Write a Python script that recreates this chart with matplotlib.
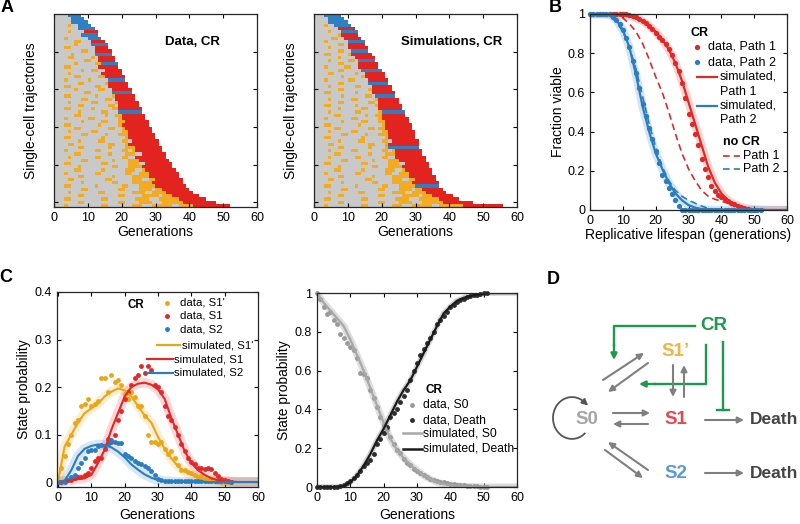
import numpy as np
import matplotlib.pyplot as plt
from matplotlib.colors import ListedColormap

plt.rcParams['font.family'] = ['Liberation Sans', 'DejaVu Sans']
plt.rcParams['font.size'] = 9
plt.rcParams['axes.linewidth'] = 0.9
plt.rcParams['axes.edgecolor'] = '#262626'
plt.rcParams['xtick.direction'] = 'in'
plt.rcParams['ytick.direction'] = 'in'
plt.rcParams['xtick.top'] = True
plt.rcParams['ytick.right'] = True
plt.rcParams['xtick.major.size'] = 3
plt.rcParams['ytick.major.size'] = 3

RED = '#e22826'
BLUE = '#2a7dc0'
ORANGE = '#eca515'

# ---- A: single-cell trajectories (0 = S0, 1 = S1', 2 = S1, 3 = S2) ----
data_rows = [
    "00003333", "000003333", "0000033333", "00001003333", "000000033333",
    "0000100002222", "0000000033333", "00010000003333", "000000110002222",
    "0000001000033333", "0001100000002222", "00000000110022222",
    "00000100000033333", "000011000001022222", "000000000110022222",
    "0000001000001133333", "0001100000000222222", "00000000100110022222",
    "00001000000000222222", "000000110000011222222", "000100000010000033333",
    "0000000110000001222222", "0001100000001100222222",
    "00000010000001100222222", "00000000011000000333333",
    "000110000000100001222222", "000000001100000110222222",
    "0000100000011000001222222", "0000000110000000110222222",
    "00011000000100000112222222", "00000001000000110003333333",
    "000000110000000100112222222", "000100000011000000012222222",
    "0000000010000011000112222222", "0001100000000100000122222222",
    "00000011000000001100122222222", "00001000000110000000112222222",
    "000000001100000100011122222222", "000110000000001000000122222222",
    "0000000100000110000011022222222", "0000110000000000110001222222222",
    "00000001100000001000011122222222", "00010000000011000000110122222222",
    "000000110000000010000111002222222", "000010000000110000001100222222222",
    "0000000011000000010000111222222222", "00011000000000110000001110022222222",
    "00000001000000000110001111222222222", "000000110000001000000111001222222222",
    "0001000000001100000001100111222222222", "0000000110000000010000011111222222222",
    "00001100000000011000000111001122222222", "00000000100000000110000111111222222222",
    "000110000000100000001100011111222222222", "0000000011000000000110000111101122222222",
    "00001000000001100000000111100111122222222",
    "0000000110000000000110000011111011122222222",
    "000110000000001100000000111100011111122222222",
    "000000011000000000011000011110001111112222222222",
    "0001000000000011000000011100011111100111122222222222",
]

sim_rows = [
    "00033333", "000033333", "0000333333", "00010033333", "000000022222",
    "0000100033333", "0000000122222", "00000110022222", "000100000033333",
    "000000011022222", "0000100000222222", "0000000110033333",
    "00011000001222222", "000000010000222222", "000010000011033333",
    "0000000110000222222", "0001000001100222222", "00000001100000333333",
    "000011000000100222222", "000000001000001222222", "0001000000110000222222",
    "0000000110000000333333", "00001000000011000222222",
    "00000001100000001222222", "000110000000100002222222",
    "000000001000000110333333", "0000100000011000001222222",
    "0000000110000000110222222", "00011000000010000012222222",
    "00000001000000110002222222", "000010000000110000013333333",
    "000000110000000100112222222", "0001000000011000000122222222",
    "0000000010000011000112222222", "00011000000001000000122222222",
    "00000011000000001101122222222", "000010000001100000001122222222",
    "000000001100000100011122222222", "000110000000001000000122222222",
    "0000000100000110000011022222222", "0000110000000000110001222222222",
    "0000000110000000100001333333333", "00001000000110000000110122222222",
    "00000011000000001000011122222222", "000010000000110000001100222222222",
    "000000001100000001000011122222222", "0001100000000011000000111002222222",
    "0000000100000000011000111122222222", "00000011000000100000011100122222222",
    "00010000000011000000011001112222222", "000000011000000001000001111122222222",
    "000011000000000110000001110011222222", "0000000010000000011000011111122222222",
    "0001100000001000000011000111113333333", "00000000110000000001100001111011222222",
    "000010000000011000000001111001111222222",
    "00000001100000000001100000111110111222222",
    "0001100000000011000000001111000111111222222",
    "00000001100000000001100001111000111111222222222",
    "00010000000000110000000111000111111001111111222222222222",
]

# ---- B: fraction viable ----
gens_p1_data = np.arange(6, 51)
path1_data = [1, 1, 1, 1, 1, 1, 0.995, 0.99, 0.985, 0.975, 0.965, 0.955, 0.94, 0.925,
              0.905, 0.885, 0.865, 0.845, 0.82, 0.79, 0.75, 0.71, 0.65, 0.57, 0.49, 0.44,
              0.39, 0.33, 0.26, 0.21, 0.17, 0.125, 0.095, 0.075, 0.065, 0.055, 0.045,
              0.035, 0.03, 0.022, 0.015, 0.01, 0.005, 0.002, 0]
gens_p2_data = np.arange(0, 53)
path2_data = [1, 1, 1, 1, 1, 1, 1, 0.985, 0.97, 0.95, 0.92, 0.88, 0.83, 0.76, 0.7, 0.62,
              0.54, 0.48, 0.42, 0.36, 0.3, 0.24, 0.18, 0.15, 0.11, 0.08, 0.05, 0.02] + [0] * 25
sim_gens = np.arange(0, 61, 2)
path1_sim = [1, 1, 1, 1, 0.999, 0.998, 0.99, 0.98, 0.965, 0.94, 0.91, 0.87, 0.82, 0.75,
             0.66, 0.55, 0.44, 0.33, 0.22, 0.14, 0.085, 0.05, 0.028, 0.015, 0.007, 0.003,
             0.001, 0, 0, 0, 0]
path2_sim = [1, 1, 1, 0.995, 0.97, 0.92, 0.83, 0.69, 0.53, 0.40, 0.29, 0.21, 0.14, 0.085,
             0.05, 0.025, 0.012, 0.005, 0.002] + [0] * 12
path1_nocr = [1, 1, 1, 1, 0.995, 0.98, 0.95, 0.91, 0.85, 0.77, 0.68, 0.60, 0.50, 0.39,
              0.29, 0.21, 0.15, 0.10, 0.07, 0.055, 0.045, 0.035, 0.022, 0.012, 0.005,
              0.002, 0, 0, 0, 0, 0]
path2_nocr = [1, 1, 1, 0.99, 0.96, 0.91, 0.83, 0.72, 0.58, 0.44, 0.32, 0.22, 0.15, 0.10,
              0.07, 0.05, 0.035, 0.02, 0.008, 0.003] + [0] * 11

# ---- C: state probabilities ----
s1p_data = [0, 0.03, 0.055, 0.08, 0.1, 0.125, 0.13, 0.16, 0.165, 0.175, 0.16, 0.165, 0.17,
            0.22, 0.22, 0.19, 0.225, 0.21, 0.215, 0.205, 0.185, 0.175, 0.19, 0.18, 0.16,
            0.16, 0.14, 0.1, 0.085, 0.085, 0.08, 0.085, 0.07, 0.06, 0.065, 0.05, 0.035,
            0.025, 0.025, 0.022, 0.02, 0.015, 0.01, 0.012, 0.006, 0.005, 0.004, 0.003,
            0.002, 0.001, 0, 0, 0]
s1_data = [0, 0, 0.003, 0.005, 0.005, 0.008, 0.01, 0.01, 0.015, 0.02, 0.03, 0.045, 0.05,
           0.05, 0.07, 0.09, 0.085, 0.1, 0.13, 0.15, 0.175, 0.19, 0.205, 0.22, 0.225, 0.245,
           0.23, 0.245, 0.235, 0.205, 0.2, 0.19, 0.16, 0.14, 0.13, 0.115, 0.1, 0.08, 0.065,
           0.05, 0.042, 0.038, 0.03, 0.03, 0.028, 0.03, 0.027, 0.02, 0.012, 0.007, 0.004,
           0.002, 0]
s2_data = [0, 0, 0, 0.005, 0.01, 0.015, 0.03, 0.04, 0.05, 0.065, 0.067, 0.068, 0.075,
           0.078, 0.075, 0.08, 0.088, 0.085, 0.082, 0.082, 0.06, 0.055, 0.05, 0.045, 0.04,
           0.037, 0.033, 0.03, 0.024, 0.015, 0.006, 0.004, 0.003] + [0.002] * 19 + [0]
s1p_sim = [0, 0.075, 0.1, 0.125, 0.145, 0.155, 0.165, 0.18, 0.19, 0.197, 0.193, 0.18, 0.16,
           0.14, 0.125, 0.095, 0.07, 0.05, 0.033, 0.022, 0.015, 0.009, 0.005, 0.003, 0.002,
           0.001, 0, 0, 0, 0, 0]
s1_sim = [0, 0.002, 0.004, 0.006, 0.008, 0.015, 0.04, 0.068, 0.11, 0.145, 0.18, 0.2, 0.207,
          0.209, 0.205, 0.195, 0.175, 0.135, 0.1, 0.065, 0.04, 0.025, 0.015, 0.008, 0.004,
          0.002, 0.001, 0, 0, 0, 0]
s2_sim = [0, 0.003, 0.025, 0.055, 0.07, 0.076, 0.079, 0.078, 0.073, 0.064, 0.052, 0.037,
          0.026, 0.016, 0.009, 0.004, 0.002, 0.001] + [0] * 13

s0_data = [1.0, 0.97, 0.93, 0.89, 0.9, 0.86, 0.84, 0.79, 0.77, 0.74, 0.72, 0.706, 0.663,
           0.586, 0.58, 0.56, 0.5, 0.46, 0.414, 0.363, 0.32, 0.3, 0.26, 0.22, 0.19, 0.174,
           0.145, 0.125, 0.113, 0.095, 0.085, 0.07, 0.06, 0.05, 0.04, 0.035, 0.03, 0.028,
           0.025, 0.02, 0.018, 0.015, 0.012, 0.01, 0.008, 0.006, 0.005, 0.004, 0.003,
           0.002, 0.001, 0.0]
death_data = [0, 0, 0, 0, 0, 0, 0, 0.005, 0.01, 0.02, 0.03, 0.045, 0.06, 0.085, 0.11,
              0.125, 0.14, 0.17, 0.22, 0.25, 0.28, 0.31, 0.36, 0.38, 0.4, 0.44, 0.47, 0.5,
              0.55, 0.6, 0.64, 0.68, 0.71, 0.74, 0.77, 0.8, 0.84, 0.86, 0.88, 0.9, 0.93,
              0.94, 0.955, 0.965, 0.97, 0.978, 0.984, 0.988, 0.992, 0.995, 0.998, 1.0]
s0_sim = [1, 0.95, 0.91, 0.87, 0.83, 0.76, 0.68, 0.6, 0.51, 0.42, 0.33, 0.25, 0.19, 0.15,
          0.115, 0.085, 0.06, 0.04, 0.025, 0.015, 0.01, 0.006, 0.004, 0.002, 0.001,
          0, 0, 0, 0, 0, 0]
death_sim = [0, 0, 0, 0, 0.005, 0.025, 0.06, 0.11, 0.17, 0.24, 0.3, 0.37, 0.44, 0.5, 0.55,
             0.62, 0.69, 0.76, 0.83, 0.895, 0.93, 0.96, 0.975, 0.985, 0.992, 0.997,
             1, 1, 1, 1, 1]

W, H = 800, 524
fig = plt.figure(figsize=(8, 5.24), dpi=100)


def px_axes(left, top, right, bottom):
    return fig.add_axes([left / W, 1 - bottom / H, (right - left) / W, (bottom - top) / H])


def build(rows):
    m = np.full((len(rows), 60), 4)
    for i, r in enumerate(rows):
        m[i, :len(r)] = [int(c) for c in r]
    return m


cmap = ListedColormap(['#c9c9c9', '#f2ab22', '#e2231f', '#2f80c3', 'white'])

for left, rows, label in [(54, data_rows, 'Data, CR'), (314, sim_rows, 'Simulations, CR')]:
    ax = px_axes(left, 14, left + 203, 207)
    n = len(rows)
    ax.imshow(build(rows), cmap=cmap, vmin=-0.5, vmax=4.5, aspect='auto',
              interpolation='nearest', extent=(0, 60, n, 0))
    ax.set_xlim(0, 60)
    ax.set_ylim(n, 0)
    ax.set_xticks(range(0, 61, 10))
    ax.set_yticks(n * np.array([0.197, 0.39, 0.585, 0.78, 0.974]))
    ax.set_yticklabels([])
    ax.set_xlabel('Generations', fontsize=10, labelpad=1)
    ax.set_ylabel('Single-cell trajectories', fontsize=10, labelpad=8)
    ax.text(0.68, 0.855, label, transform=ax.transAxes, ha='center', va='center',
            fontweight='bold', fontsize=9.5)

# ---- B ----
axb = px_axes(590, 14, 787, 210)
for y, c in [(path1_sim, RED), (path2_sim, BLUE)]:
    axb.plot(sim_gens, y, color=c, lw=6, alpha=0.2, solid_capstyle='butt')
axb.plot(sim_gens, path1_nocr, color=RED, lw=1.2, dashes=(4, 2.5))
axb.plot(sim_gens, path2_nocr, color=BLUE, lw=1.2, dashes=(4, 2.5))
axb.plot(sim_gens, path1_sim, color=RED, lw=1.6)
axb.plot(sim_gens, path2_sim, color=BLUE, lw=1.6)
axb.plot(gens_p1_data, path1_data, 'o', color=RED, ms=3.8, mec='none', clip_on=False)
axb.plot(gens_p2_data, path2_data, 'o', color=BLUE, ms=3.8, mec='none', clip_on=False)
axb.set_xlim(0, 60)
axb.set_ylim(0, 1)
axb.set_xticks(range(0, 61, 10))
axb.set_yticks([0, 0.2, 0.4, 0.6, 0.8, 1])
axb.set_yticklabels(['0', '0.2', '0.4', '0.6', '0.8', '1'])
axb.set_xlabel('Replicative lifespan (generations)', fontsize=10, labelpad=1)
axb.set_ylabel('Fraction viable', fontsize=10, labelpad=2)
tb = axb.transAxes
axb.text(0.51, 0.903, 'CR', transform=tb, fontweight='bold', va='center')
axb.plot([0.545], [0.832], 'o', color=RED, ms=3.8, mec='none', transform=tb)
axb.text(0.60, 0.832, 'data, Path 1', transform=tb, va='center')
axb.plot([0.545], [0.755], 'o', color=BLUE, ms=3.8, mec='none', transform=tb)
axb.text(0.60, 0.755, 'data, Path 2', transform=tb, va='center')
axb.plot([0.545, 0.645], [0.679, 0.679], color=RED, lw=1.6, transform=tb)
axb.text(0.66, 0.679, 'simulated,', transform=tb, va='center')
axb.text(0.66, 0.602, 'Path 1', transform=tb, va='center')
axb.plot([0.545, 0.645], [0.531, 0.531], color=BLUE, lw=1.6, transform=tb)
axb.text(0.66, 0.531, 'simulated,', transform=tb, va='center')
axb.text(0.66, 0.459, 'Path 2', transform=tb, va='center')
axb.text(0.675, 0.347, 'no CR', transform=tb, fontweight='bold', va='center')
axb.plot([0.675, 0.76], [0.276, 0.276], color=RED, lw=1.2, dashes=(4, 2.5), transform=tb)
axb.text(0.777, 0.276, 'Path 1', transform=tb, va='center')
axb.plot([0.675, 0.76], [0.209, 0.209], color=BLUE, lw=1.2, dashes=(4, 2.5), transform=tb)
axb.text(0.777, 0.209, 'Path 2', transform=tb, va='center')

# ---- C left ----
axc = px_axes(57, 292, 258, 487)
cg = np.arange(53)
for y, c in [(s1p_sim, ORANGE), (s1_sim, RED), (s2_sim, BLUE)]:
    axc.plot(sim_gens, y, color=c, lw=7, alpha=0.18, solid_capstyle='butt')
for y, c in [(s1p_data, ORANGE), (s1_data, RED), (s2_data, BLUE)]:
    axc.plot(cg, y, 'o', color=c, ms=3.5, mec='none')
for y, c in [(s1p_sim, ORANGE), (s1_sim, RED), (s2_sim, BLUE)]:
    axc.plot(sim_gens, y, color=c, lw=1.5)
axc.set_xlim(-0.3, 60)
axc.set_ylim(-0.0105, 0.4)
axc.set_xticks(range(0, 61, 10))
axc.set_yticks([0, 0.1, 0.2, 0.3, 0.4])
axc.set_yticklabels(['0', '0.1', '0.2', '0.3', '0.4'])
axc.set_xlabel('Generations', fontsize=10, labelpad=3)
axc.set_ylabel('State probability', fontsize=10, labelpad=3)
tc = axc.transAxes
lf = 8.2
axc.text(0.353, 0.933, 'CR', transform=tc, fontweight='bold', va='center', fontsize=8.3)
for yy, c, lab in [(0.944, ORANGE, "data, S1'"), (0.877, RED, 'data, S1'), (0.81, BLUE, 'data, S2')]:
    axc.plot([0.547], [yy], 'o', color=c, ms=3.5, mec='none', transform=tc)
    axc.text(0.612, yy, lab, transform=tc, va='center', fontsize=lf)
axc.plot([0.497, 0.612], [0.728, 0.728], color=ORANGE, lw=1.6, transform=tc)
axc.text(0.622, 0.728, "simulated, S1'", transform=tc, va='center', fontsize=lf)
axc.plot([0.448, 0.577], [0.656, 0.656], color=RED, lw=1.6, transform=tc)
axc.text(0.582, 0.656, 'simulated, S1', transform=tc, va='center', fontsize=lf)
axc.plot([0.448, 0.577], [0.585, 0.585], color=BLUE, lw=1.6, transform=tc)
axc.text(0.582, 0.585, 'simulated, S2', transform=tc, va='center', fontsize=lf)

# ---- C right ----
axc2 = px_axes(317, 293, 517, 487)
dg = np.arange(52)
axc2.plot(sim_gens, s0_sim, color='#bdbdbd', lw=5, alpha=0.5, solid_capstyle='butt')
axc2.plot(sim_gens, death_sim, color='#555555', lw=4, alpha=0.25, solid_capstyle='butt')
axc2.plot(dg, s0_data, 'o', color='#9a9a9a', ms=3.5, mec='none', clip_on=False)
axc2.plot(dg, death_data, 'o', color='#2e2e2e', ms=3.5, mec='none', clip_on=False)
axc2.plot(sim_gens, s0_sim, color='#a8a8a8', lw=1.6)
axc2.plot(sim_gens, death_sim, color='#1a1a1a', lw=1.6)
axc2.set_xlim(0, 60)
axc2.set_ylim(0, 1)
axc2.set_xticks(range(0, 61, 10))
axc2.set_yticks([0, 0.2, 0.4, 0.6, 0.8, 1])
axc2.set_yticklabels(['0', '0.2', '0.4', '0.6', '0.8', '1'])
axc2.set_xlabel('Generations', fontsize=10, labelpad=3)
axc2.set_ylabel('State probability', fontsize=10, labelpad=3)
t2 = axc2.transAxes
lf2 = 8.7
axc2.text(0.54, 0.5, 'CR', transform=t2, fontweight='bold', va='center', fontsize=8.5)
axc2.plot([0.475], [0.423], 'o', color='#9a9a9a', ms=3.5, mec='none', transform=t2)
axc2.text(0.53, 0.423, 'data, S0', transform=t2, va='center', fontsize=lf2)
axc2.plot([0.475], [0.345], 'o', color='#2e2e2e', ms=3.5, mec='none', transform=t2)
axc2.text(0.53, 0.345, 'data, Death', transform=t2, va='center', fontsize=lf2)
axc2.plot([0.43, 0.525], [0.278, 0.278], color='#a8a8a8', lw=1.8, transform=t2)
axc2.text(0.53, 0.278, 'simulated, S0', transform=t2, va='center', fontsize=lf2)
axc2.plot([0.43, 0.525], [0.196, 0.196], color='#1a1a1a', lw=1.8, transform=t2)
axc2.text(0.53, 0.196, 'simulated, Death', transform=t2, va='center', fontsize=lf2)

# ---- D: state diagram (pixel coordinates) ----
axd = px_axes(540, 250, 800, 524)
axd.set_xlim(540, 800)
axd.set_ylim(524, 250)
axd.axis('off')
GRAY = '#7f7f7f'
GREEN = '#1a9a4a'


def arrow(p0, p1, color=GRAY, lw=1.5):
    axd.annotate('', xy=p1, xytext=p0,
                 arrowprops=dict(arrowstyle='-|>', color=color, lw=lw, mutation_scale=9,
                                 shrinkA=0, shrinkB=0))


big = dict(fontsize=13.5, fontweight='bold', ha='center', va='center')
axd.text(714, 325, 'CR', color=GREEN, **big)
axd.text(676, 352, 'S1\u2019', color='#f2b43c', **big)
axd.text(587, 420, 'S0', color='#a6a6a6', **big)
axd.text(676, 420, 'S1', color='#e8484d', **big)
axd.text(676, 473, 'S2', color='#5b9bd5', **big)
axd.text(750, 420, 'Death', color='#444444', fontsize=12.5, fontweight='bold', va='center')
axd.text(750, 473, 'Death', color='#444444', fontsize=12.5, fontweight='bold', va='center')

arrow((613, 413), (650, 413))
arrow((648, 424), (613, 424))
arrow((603, 380), (644, 353))
arrow((648, 363), (608, 392))
arrow((605, 450), (643, 478))
arrow((648, 470), (608, 442))
arrow((673, 365), (673, 397))
arrow((684, 397), (684, 365))
arrow((705, 420), (744, 420))
arrow((705, 473), (744, 473))

# self loop on S0
t = np.radians(np.linspace(-48, -318, 60))
cx, cy, r = 572, 418, 19
lx = cx + r * np.cos(t)
ly = cy - 1.1 * r * np.sin(t)
axd.plot(lx, ly, color='#555555', lw=1.3)
arrow((lx[-3], ly[-3]), (lx[-1] + 2, ly[-1] + 1.5), color='#555555', lw=1.3)

# CR effects
axd.plot([695, 614, 614], [326, 326, 345], color=GREEN, lw=1.7)
arrow((614, 344), (614, 360), color=GREEN, lw=1.7)
axd.plot([706, 706, 655], [345, 384, 384], color=GREEN, lw=1.7)
arrow((656, 384), (639, 384), color=GREEN, lw=1.7)
axd.plot([723, 723], [342, 410], color=GREEN, lw=1.7)
axd.plot([717, 729], [410, 410], color=GREEN, lw=1.7)

# panel letters
for x, y, s in [(7, 8, 'A'), (555, 8, 'B'), (6, 277, 'C'), (553, 279, 'D')]:
    fig.text(x / W, 1 - y / H, s, fontsize=13, fontweight='bold', ha='center', va='center')

fig.savefig('out.png', dpi=100)
